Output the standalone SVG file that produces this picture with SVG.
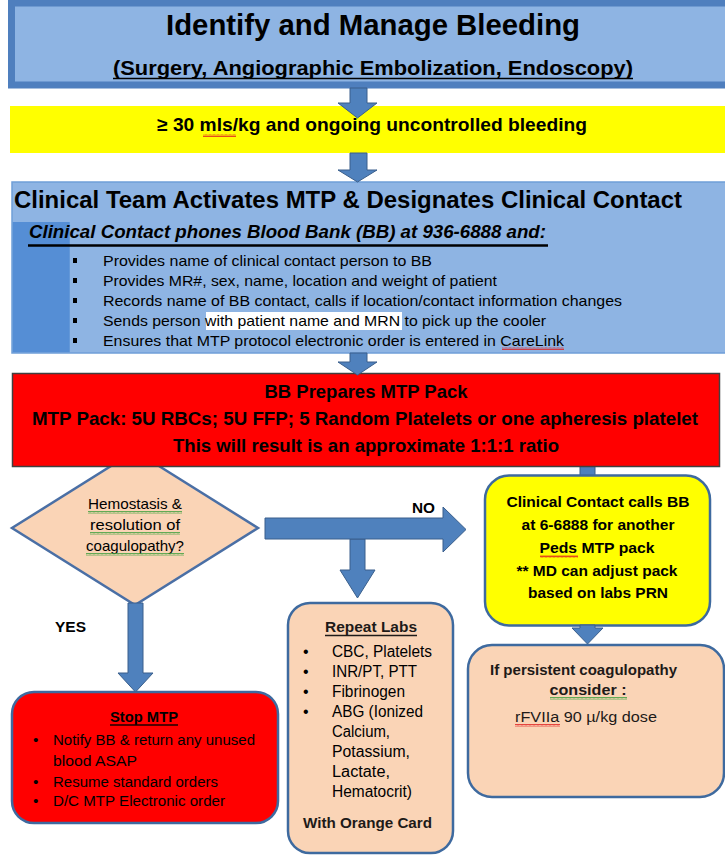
<svg xmlns="http://www.w3.org/2000/svg" width="725" height="865" viewBox="0 0 725 865">
<defs>
<pattern id="wr" width="4" height="3" patternUnits="userSpaceOnUse"><path d="M0,2.5 L1,0.5 L2,2.5 L3,0.5 L4,2.5" fill="none" stroke="#E02020" stroke-width="0.8"/></pattern>
<pattern id="wg" width="4" height="3" patternUnits="userSpaceOnUse"><path d="M0,2.5 L1,0.5 L2,2.5 L3,0.5 L4,2.5" fill="none" stroke="#3CA03C" stroke-width="0.8"/></pattern>
</defs>
<style>
text{font-family:"Liberation Sans",Arial,sans-serif;fill:#000}
.b{font-weight:bold}
.arrow{fill:#4F81BD;stroke:#3A5F8C;stroke-width:1}
.rbox{stroke:#3E6A9F;stroke-width:2.5}
.peach{fill:#FAD4B6}
.dk{fill:#1E1A18}
</style>
<rect width="725" height="865" fill="#fff"/>

<g id="connectors">
<rect x="580" y="462" width="15" height="16" class="arrow"/>
</g>

<g id="identify">
<rect x="11.5" y="3" width="720" height="82" fill="#8EB4E3" stroke="#4F7FBE" stroke-width="7"/>
<text x="373" y="35" text-anchor="middle" class="b" font-size="29" textLength="414" lengthAdjust="spacingAndGlyphs">Identify and Manage Bleeding</text>
<text x="373" y="75" text-anchor="middle" class="b" font-size="19.5" textLength="520" lengthAdjust="spacingAndGlyphs">(Surgery, Angiographic Embolization, Endoscopy)</text>
<line x1="113" y1="78.5" x2="633" y2="78.5" stroke="#000" stroke-width="1.3"/>
</g>

<g id="threshold">
<rect x="10" y="106" width="715" height="47" fill="#FFFF00"/>
<text x="372" y="131" text-anchor="middle" class="b" font-size="19" textLength="430" lengthAdjust="spacingAndGlyphs">≥ 30 mls/kg and ongoing uncontrolled bleeding</text>
<rect x="203" y="134" width="33" height="3" fill="url(#wr)"/>
</g>

<g id="activate">
<rect x="12" y="182" width="720" height="171" fill="#8EB4E3" stroke="#6F9ED8" stroke-width="1.5"/>
<rect x="12.75" y="222" width="57" height="130.25" fill="#558ED5"/>
<text x="14" y="208" class="b" font-size="24" textLength="668" lengthAdjust="spacingAndGlyphs">Clinical Team Activates MTP &amp; Designates Clinical Contact</text>
<text x="29" y="238" class="b" font-size="18" font-style="italic" textLength="517" lengthAdjust="spacingAndGlyphs">Clinical Contact phones Blood Bank (BB) at 936-6888 and:</text>
<line x1="28" y1="245.5" x2="548" y2="245.5" stroke="#000" stroke-width="2.5"/>
<rect x="206" y="312" width="196" height="18" fill="#fff"/>
<g font-size="15">
<rect x="73" y="258" width="4" height="5"/><text x="103" y="266" textLength="329" lengthAdjust="spacingAndGlyphs">Provides name of clinical contact person to BB</text>
<rect x="73" y="278" width="4" height="5"/><text x="103" y="286" textLength="394" lengthAdjust="spacingAndGlyphs">Provides MR#, sex, name, location and weight of patient</text>
<rect x="73" y="298" width="4" height="5"/><text x="103" y="306" textLength="519" lengthAdjust="spacingAndGlyphs">Records name of BB contact, calls if location/contact information changes</text>
<rect x="73" y="318" width="4" height="5"/><text x="103" y="326" textLength="443" lengthAdjust="spacingAndGlyphs">Sends person with patient name and MRN to pick up the cooler</text>
<rect x="73" y="338" width="4" height="5"/><text x="103" y="346" textLength="461" lengthAdjust="spacingAndGlyphs">Ensures that MTP protocol electronic order is entered in CareLink</text>
</g>
<rect x="502" y="347" width="62" height="3" fill="url(#wr)"/>
</g>

<g id="decision">
<polygon points="135,451 258,528 135,605 12,528" fill="#FAD4B6" stroke="#4A6FA5" stroke-width="2.5"/>
<g class="dk" font-size="14.5" text-anchor="middle">
<text x="135" y="509" textLength="94" lengthAdjust="spacingAndGlyphs">Hemostasis &amp;</text>
<text x="135" y="530" textLength="90" lengthAdjust="spacingAndGlyphs">resolution of</text>
<text x="135" y="551" textLength="98" lengthAdjust="spacingAndGlyphs">coagulopathy?</text>
</g>
<rect x="88" y="511" width="94" height="3" fill="url(#wg)"/>
<rect x="90" y="532" width="90" height="3" fill="url(#wg)"/>
<rect x="86" y="553" width="98" height="3" fill="url(#wg)"/>
</g>

<g id="prepare">
<rect x="12.5" y="373.5" width="707" height="93" fill="#FF0000" stroke="#404040" stroke-width="1.5"/>
<g class="b" font-size="19" text-anchor="middle">
<text x="366" y="398" textLength="203" lengthAdjust="spacingAndGlyphs">BB Prepares MTP Pack</text>
<text x="365" y="425" textLength="666" lengthAdjust="spacingAndGlyphs">MTP Pack: 5U RBCs; 5U FFP; 5 Random Platelets or one apheresis platelet</text>
<text x="366" y="452" textLength="386" lengthAdjust="spacingAndGlyphs">This will result is an approximate 1:1:1 ratio</text>
</g>
</g>

<g id="callbb">
<rect x="485" y="475.5" width="225" height="150" rx="24" fill="#FFFF00" class="rbox"/>
<g class="b dk" font-size="15" text-anchor="middle">
<text x="598" y="507" textLength="183" lengthAdjust="spacingAndGlyphs">Clinical Contact calls BB</text>
<text x="598" y="530" textLength="153" lengthAdjust="spacingAndGlyphs">at 6-6888 for another</text>
<text x="597" y="553" textLength="115" lengthAdjust="spacingAndGlyphs">Peds MTP pack</text>
<text x="597" y="576" textLength="161" lengthAdjust="spacingAndGlyphs">** MD can adjust pack</text>
<text x="598" y="598" textLength="140" lengthAdjust="spacingAndGlyphs">based on labs PRN</text>
</g>
<rect x="540" y="555" width="38" height="3" fill="url(#wr)"/>
</g>

<g id="persistent">
<rect x="468" y="645" width="256" height="152" rx="24" class="peach rbox"/>
<text x="490" y="675" class="b dk" font-size="15" textLength="187" lengthAdjust="spacingAndGlyphs">If persistent coagulopathy</text>
<text x="588" y="695" class="b dk" font-size="15" text-anchor="middle" textLength="77" lengthAdjust="spacingAndGlyphs">consider :</text>
<rect x="550" y="697" width="77" height="3" fill="url(#wg)"/>
<text x="515" y="722" class="dk" font-size="15.5" textLength="142" lengthAdjust="spacingAndGlyphs">rFVIIa 90 µ/kg dose</text>
<rect x="515" y="724" width="45" height="3" fill="url(#wr)"/>
</g>

<g id="stop">
<rect x="12" y="692" width="266" height="131" rx="22" fill="#FF0000" class="rbox"/>
<text x="144" y="722" text-anchor="middle" class="b" font-size="15.5" fill="#1a0000" textLength="68" lengthAdjust="spacingAndGlyphs">Stop MTP</text>
<line x1="110" y1="725" x2="178" y2="725" stroke="#1a0000" stroke-width="1.3"/>
<g font-size="15.5" style="fill:#2a0000">
<text x="33" y="745">•</text><text x="53" y="745" textLength="202" lengthAdjust="spacingAndGlyphs">Notify BB &amp; return any unused</text>
<text x="53" y="766" textLength="84" lengthAdjust="spacingAndGlyphs">blood ASAP</text>
<text x="33" y="787">•</text><text x="53" y="787" textLength="165" lengthAdjust="spacingAndGlyphs">Resume standard orders</text>
<text x="33" y="806">•</text><text x="53" y="806" textLength="172" lengthAdjust="spacingAndGlyphs">D/C MTP Electronic order</text>
</g>
</g>

<g id="labs">
<rect x="288" y="603" width="165" height="250" rx="22" class="peach rbox"/>
<text x="371" y="632" text-anchor="middle" class="b dk" font-size="15.5" textLength="92" lengthAdjust="spacingAndGlyphs">Repeat Labs</text>
<line x1="325" y1="635.5" x2="417" y2="635.5" stroke="#1E1A18" stroke-width="1.3"/>
<g font-size="16" style="fill:#2a2420">
<text x="303" y="657">•</text><text x="332" y="657" textLength="100" lengthAdjust="spacingAndGlyphs">CBC, Platelets</text>
<text x="303" y="677">•</text><text x="332" y="677" textLength="85" lengthAdjust="spacingAndGlyphs">INR/PT, PTT</text>
<text x="303" y="697">•</text><text x="332" y="697" textLength="73" lengthAdjust="spacingAndGlyphs">Fibrinogen</text>
<text x="303" y="717">•</text><text x="332" y="717" textLength="91" lengthAdjust="spacingAndGlyphs">ABG (Ionized</text>
<text x="332" y="737" textLength="58" lengthAdjust="spacingAndGlyphs">Calcium,</text>
<text x="332" y="757" textLength="78" lengthAdjust="spacingAndGlyphs">Potassium,</text>
<text x="332" y="777" textLength="58" lengthAdjust="spacingAndGlyphs">Lactate,</text>
<text x="332" y="797" textLength="80" lengthAdjust="spacingAndGlyphs">Hematocrit)</text>
</g>
<text x="303" y="828" class="b dk" font-size="15.5" textLength="129" lengthAdjust="spacingAndGlyphs">With Orange Card</text>
</g>

<g id="arrows">
<path class="arrow" d="M350,88 H367 V103 H377 L357.5,118 L338,103 H350 Z"/>
<path class="arrow" d="M350,153 H367 V170 H377 L357.5,182 L338,170 H350 Z"/>
<path class="arrow" d="M350,353 H367 V362 H377 L357.5,375 L338,362 H350 Z"/>
<path class="arrow" d="M580,625 H595 V628 H603 L587.5,644 L572,628 H580 Z"/>
<path class="arrow" d="M128,603 H143 V673 H153 L135.5,692 L118,673 H128 Z"/>
<path class="arrow" d="M350,539 H365 V570 H375 L357.5,598 L340,570 H350 Z"/>
<path class="arrow" d="M265,518 H443 V507 L466,529.5 L443,552 V539 H265 Z"/>
<text x="55" y="632" class="b" font-size="14.5" textLength="31" lengthAdjust="spacingAndGlyphs">YES</text>
<text x="412" y="513" class="b" font-size="14.5" textLength="23" lengthAdjust="spacingAndGlyphs">NO</text>
</g>
</svg>
